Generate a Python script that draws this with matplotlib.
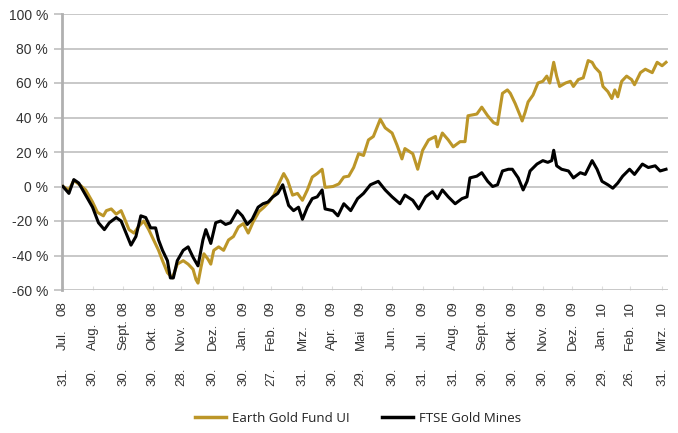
import matplotlib
matplotlib.use("Agg")
import matplotlib.pyplot as plt
import matplotlib.transforms as mtransforms
import numpy as np

# start date of the comparison, x values are days after it
start = np.datetime64("2008-07-31")

# Earth Gold Fund UI (performance in %)
gold_days = [0, 6, 11, 18, 23, 30, 35, 41, 44, 49, 54, 59, 62, 67, 72, 77, 82, 87, 92, 97,
             101, 106, 111, 116, 122, 127, 132, 135, 137, 140, 143, 147, 150, 153, 158, 163,
             168, 173, 178, 183, 188, 193, 199, 204, 209, 214, 219, 224, 228, 233, 238, 243,
             248, 253, 258, 263, 266, 274, 280, 285, 290, 295, 300, 305, 310, 315, 322, 327,
             334, 339, 344, 347, 355, 360, 365, 371, 378, 380, 385, 391, 396, 403, 408, 411,
             420, 425, 431, 437, 441, 446, 451, 454, 459, 464, 466, 469, 472, 477, 482, 487,
             491, 494, 498, 501, 504, 510, 515, 518, 523, 528, 533, 537, 540, 545, 548, 553,
             557, 560, 563, 567, 572, 577, 580, 586, 591, 598, 603, 608, 612]
gold_vals = [0, -2, 3.5, 0.5, -2, -9, -15, -17, -14, -13, -16, -14, -18, -25, -27, -23, -20,
             -25, -31, -37, -43, -50, -53, -45, -43, -45, -48, -54, -56, -47, -39, -42, -45,
             -37, -35, -37, -31, -29, -23.5, -21.5, -27, -20.5, -14.5, -12, -9, -5, 1.5, 7.5,
             3.5, -5, -4, -8, -2, 5.5, 7.5, 10, -0.5, 0, 1.5, 5.5, 6, 11, 19, 18, 27, 29, 39,
             34, 31, 24, 16, 22, 19, 10, 21, 27, 29, 23, 31, 27, 23, 26, 26, 41, 42, 46, 41,
             37, 36, 54, 56, 54, 48, 41, 38, 43, 49, 53, 60, 61, 64, 60, 72, 64, 58, 60, 61,
             58, 62, 63, 73, 72, 69, 66, 58, 55, 51, 56, 52, 61, 64, 62, 59, 66, 68, 66, 72,
             70, 72]

# FTSE Gold Mines (performance in %)
ftse_days = [0, 6, 11, 16, 23, 30, 36, 42, 47, 54, 59, 64, 69, 74, 79, 84, 89, 94, 97, 101,
             106, 109, 112, 116, 122, 127, 132, 137, 142, 145, 150, 155, 160, 165, 170, 177,
             182, 187, 192, 198, 203, 208, 213, 218, 223, 226, 229, 234, 239, 243, 248, 253,
             258, 263, 266, 274, 279, 285, 292, 299, 305, 312, 320, 327, 334, 342, 347, 355,
             361, 368, 375, 380, 385, 391, 398, 405, 410, 413, 420, 425, 431, 436, 441, 446,
             452, 456, 462, 467, 471, 474, 481, 487, 492, 496, 498, 501, 506, 513, 518, 525,
             530, 537, 542, 547, 553, 558, 563, 568, 575, 580, 588, 594, 601, 606, 612]
ftse_vals = [0, -4, 4, 2, -5, -12, -21, -25, -21, -18, -20, -27, -34, -29, -17, -18, -24,
             -24, -31, -37, -43, -53, -53, -43, -37, -35, -41, -46, -31, -25, -33, -21, -20,
             -22, -21, -14, -17, -22, -19, -12, -10, -9, -6, -4, 1, -5, -11, -14, -12, -19,
             -12, -7, -6, -2, -13, -14, -17, -10, -14, -7, -4, 1, 3, -2, -6, -10, -5, -8, -13,
             -6, -3, -7, -2, -6, -10, -7, -6, 5, 6, 8, 3, 0, 1, 9, 10, 10, 5, -2, 3, 9, 13,
             15, 14, 15, 21, 12, 10, 9, 5, 8, 7, 15, 10, 3, 1, -1, 2, 6, 10, 7, 13, 11, 12, 9,
             10]

# x axis tick labels (day, month, year)
tick_dates = ["2008-07-31", "2008-08-30", "2008-09-30", "2008-10-30", "2008-11-28",
              "2008-12-30", "2009-01-30", "2009-02-27", "2009-03-31", "2009-04-30",
              "2009-05-29", "2009-06-30", "2009-07-31", "2009-08-31", "2009-09-30",
              "2009-10-30", "2009-11-30", "2009-12-30", "2010-01-29", "2010-02-26",
              "2010-03-31"]
tick_day = ["31.", "30.", "30.", "30.", "28.", "30.", "30.", "27.", "31.", "30.", "29.",
            "30.", "31.", "31.", "30.", "30.", "30.", "30.", "29.", "26.", "31."]
tick_month = ["Jul.", "Aug.", "Sept.", "Okt.", "Nov.", "Dez.", "Jan.", "Feb.", "Mrz.",
              "Apr.", "Mai", "Jun.", "Jul.", "Aug.", "Sept.", "Okt.", "Nov.", "Dez.",
              "Jan.", "Feb.", "Mrz."]
tick_year = ["08", "08", "08", "08", "08", "08", "09", "09", "09", "09", "09", "09", "09",
             "09", "09", "09", "09", "09", "10", "10", "10"]

y_ticks = [-60, -40, -20, 0, 20, 40, 60, 80, 100]

gold_x = start + np.array(gold_days).astype("timedelta64[D]")
ftse_x = start + np.array(ftse_days).astype("timedelta64[D]")
ticks_x = np.array(tick_dates, dtype="datetime64[D]")

plt.rcParams['font.family'] = ['Liberation Sans', 'DejaVu Sans']

fig = plt.figure(figsize=(6.78, 4.33), dpi=100)
ax = fig.add_axes([62 / 678, 1 - 290 / 433, 606 / 678, 276 / 433])

ax.plot(gold_x, gold_vals, color='#bc9628', lw=2.2, label='Earth Gold Fund UI', zorder=3)
ax.plot(ftse_x, ftse_vals, color='black', lw=2.2, label='FTSE Gold Mines', zorder=4)

ax.set_ylim(-60, 100)
ax.set_xlim(start - np.timedelta64(1, 'D'), start + np.timedelta64(614, 'D'))
ax.set_yticks(y_ticks)
ax.set_yticklabels([f"{v} %" for v in y_ticks], fontsize=10, color='#333333')
ax.yaxis.grid(True, color='#c4c4c4', lw=1.3)
ax.set_axisbelow(True)
ax.tick_params(axis='y', length=6, width=1.3, color='#c4c4c4', pad=4)

for s in ['top', 'right', 'bottom']:
    ax.spines[s].set_visible(False)
ax.spines['left'].set_color('#b0b0b0')
ax.spines['left'].set_linewidth(2)

# x tick labels drawn in three aligned columns (year / month / day)
ax.set_xticks(ticks_x)
ax.set_xticklabels([])
ax.tick_params(axis='x', direction='in', length=3, color='#dddddd')
trans = ax.get_xaxis_transform()
year_tr = mtransforms.offset_copy(trans, fig=fig, y=-8.0, units='points')
month_tr = mtransforms.offset_copy(trans, fig=fig, y=-43.2, units='points')
day_tr = mtransforms.offset_copy(trans, fig=fig, y=-69.0, units='points')
for x, d, m, y in zip(ticks_x, tick_day, tick_month, tick_year):
    ax.text(x, 0, y, transform=year_tr, rotation=90, rotation_mode='anchor',
            ha='right', va='center', fontsize=9.5, color='#333333')
    ax.text(x, 0, m, transform=month_tr, rotation=90, rotation_mode='anchor',
            ha='left', va='center', fontsize=9.5, color='#333333')
    ax.text(x, 0, d, transform=day_tr, rotation=90, rotation_mode='anchor',
            ha='left', va='center', fontsize=9.5, color='#333333')

leg = fig.legend(loc='center', bbox_to_anchor=(0.528, 0.034), ncol=2, frameon=False,
                 handlelength=2.4, handletextpad=0.45, columnspacing=2.4,
                 prop={'family': 'Open Sans', 'size': 9.5})
for line in leg.get_lines():
    line.set_linewidth(2.5)
for t in leg.get_texts():
    t.set_color('#222222')

fig.savefig("out.png", dpi=100)
